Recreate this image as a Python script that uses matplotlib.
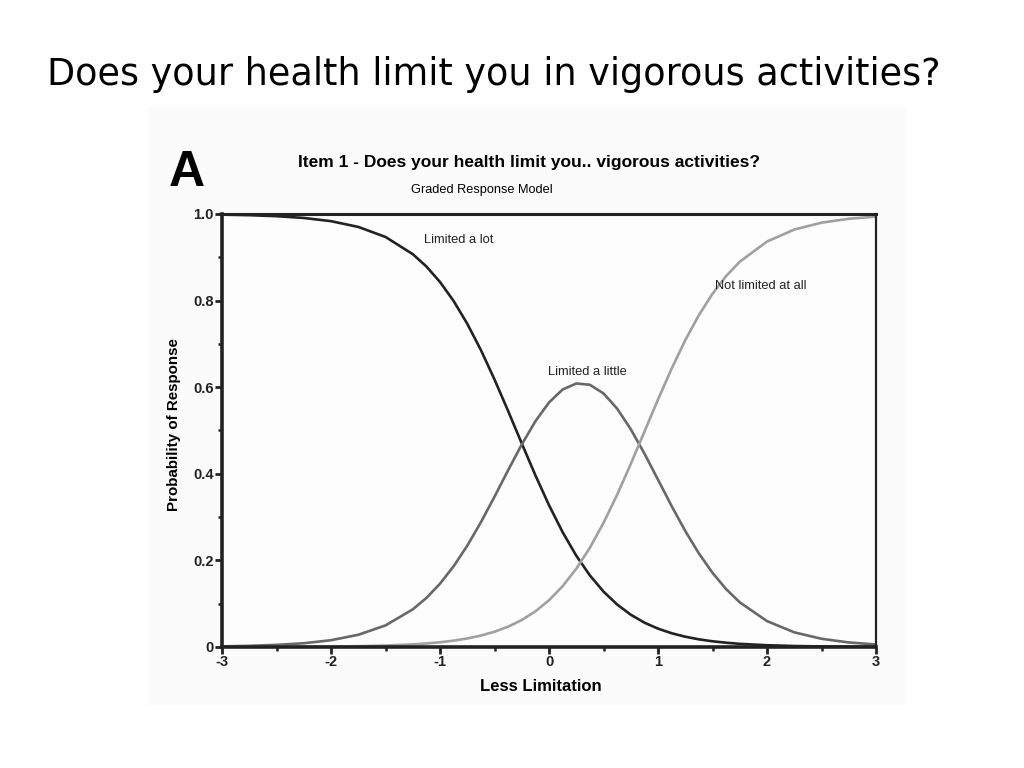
import matplotlib.pyplot as plt
from matplotlib.patches import Rectangle
from matplotlib.ticker import MultipleLocator

FIGURE_SIZE = (10.24, 7.68)
FIGURE_DPI = 100

# trait level (less limitation)
theta = [
    -3.0, -2.75, -2.5, -2.25, -2.0, -1.75, -1.5, -1.25, -1.125, -1.0,
    -0.875, -0.75, -0.625, -0.5, -0.375, -0.25, -0.125, 0.0, 0.125, 0.25,
    0.375, 0.5, 0.625, 0.75, 0.875, 1.0, 1.125, 1.25, 1.375, 1.5,
    1.625, 1.75, 2.0, 2.25, 2.5, 2.75, 3.0,
]

limited_a_lot = [
    0.9985, 0.9972, 0.9949, 0.9908, 0.9834, 0.9701, 0.9469, 0.9072, 0.8787, 0.8429,
    0.7990, 0.7465, 0.6857, 0.6177, 0.5449, 0.4700, 0.3965, 0.3274, 0.2650, 0.2108,
    0.1652, 0.1279, 0.0980, 0.0745, 0.0562, 0.0423, 0.0317, 0.0237, 0.0176, 0.0131,
    0.0098, 0.0072, 0.0040, 0.0022, 0.0012, 0.0007, 0.0004,
]

limited_a_little = [
    0.0014, 0.0026, 0.0048, 0.0086, 0.0156, 0.0281, 0.0498, 0.0868, 0.1132, 0.1462,
    0.1864, 0.2339, 0.2880, 0.3471, 0.4082, 0.4677, 0.5213, 0.5647, 0.5946, 0.6085,
    0.6055, 0.5855, 0.5504, 0.5029, 0.4468, 0.3862, 0.3254, 0.2678, 0.2160, 0.1711,
    0.1335, 0.1031, 0.0597, 0.0338, 0.0189, 0.0104, 0.0057,
]

not_limited = [
    0.0001, 0.0002, 0.0003, 0.0006, 0.0010, 0.0018, 0.0033, 0.0060, 0.0081, 0.0109,
    0.0146, 0.0196, 0.0263, 0.0352, 0.0469, 0.0623, 0.0822, 0.1079, 0.1404, 0.1807,
    0.2293, 0.2866, 0.3516, 0.4226, 0.4970, 0.5715, 0.6429, 0.7085, 0.7664, 0.8158,
    0.8567, 0.8897, 0.9363, 0.9640, 0.9799, 0.9889, 0.9939,
]

SERIES = [
    ("Limited a lot", limited_a_lot, "#222222", (-1.15, 0.94)),
    ("Limited a little", limited_a_little, "#686868", (-0.01, 0.635)),
    ("Not limited at all", not_limited, "#a0a0a0", (1.52, 0.834)),
]

X_TICKS = [-3, -2, -1, 0, 1, 2, 3]
Y_TICKS = [0.0, 0.2, 0.4, 0.6, 0.8, 1.0]
Y_TICK_LABELS = ["0", "0.2", "0.4", "0.6", "0.8", "1.0"]

SANS = ["Liberation Sans", "DejaVu Sans"]


def main():
    fig = plt.figure(figsize=FIGURE_SIZE, dpi=FIGURE_DPI)

    # slide heading
    fig.text(0.046, 0.903, "Does your health limit you in vigorous activities?",
             fontsize=26.3, family=["DejaVu Sans"], va="center", ha="left")

    # faint background of the pasted picture
    fig.patches.append(Rectangle((0.145, 0.082), 0.74, 0.78, transform=fig.transFigure,
                                 facecolor="#fbfbfb", edgecolor="none", zorder=-1))

    fig.text(0.165, 0.775, "A", fontsize=36, fontweight="bold", family=SANS,
             va="center", ha="left")
    fig.text(0.517, 0.789, "Item 1 - Does your health limit you.. vigorous activities?",
             fontsize=12.5, fontweight="bold", family=SANS, ha="center", va="center")
    fig.text(0.471, 0.753, "Graded Response Model", fontsize=9.2, family=SANS,
             ha="center", va="center")

    ax = fig.add_axes([0.2168, 0.1576, 0.6387, 0.5638])
    ax.set_facecolor("#fdfdfd")

    for label, values, color, (tx, ty) in SERIES:
        ax.plot(theta, values, color=color, lw=1.9, solid_capstyle="round",
                solid_joinstyle="round")
        ax.text(tx, ty, label, fontsize=9.3, family=SANS, color="#222222",
                ha="left", va="center")

    ax.set_xlim(-3, 3)
    ax.set_ylim(0, 1.0)

    ax.set_xticks(X_TICKS)
    ax.set_xticklabels([f"{t}" for t in X_TICKS])
    ax.set_yticks(Y_TICKS)
    ax.set_yticklabels(Y_TICK_LABELS)
    ax.xaxis.set_minor_locator(MultipleLocator(0.5))
    ax.yaxis.set_minor_locator(MultipleLocator(0.1))

    ax.tick_params(axis="both", which="major", length=5, width=2, colors="#222222",
                   direction="out", pad=1, labelsize=10.5)
    ax.tick_params(axis="both", which="minor", length=3, width=1.8, colors="#222222",
                   direction="out")
    for lab in ax.get_xticklabels() + ax.get_yticklabels():
        lab.set_fontweight("bold")
        lab.set_family(SANS)

    for side, width in [("left", 2.6), ("bottom", 2.6), ("top", 2.2), ("right", 1.6)]:
        ax.spines[side].set_linewidth(width)
        ax.spines[side].set_color("#222222")

    ax.set_xlabel("Less Limitation", fontsize=12, fontweight="bold", family=SANS)
    ax.set_ylabel("Probability of Response", fontsize=10.9, fontweight="bold",
                  family=SANS)
    ax.xaxis.set_label_coords(0.488, -0.074)
    ax.yaxis.set_label_coords(-0.063, 0.513)

    fig.savefig("out.png", dpi=FIGURE_DPI, facecolor="white")


if __name__ == "__main__":
    main()
